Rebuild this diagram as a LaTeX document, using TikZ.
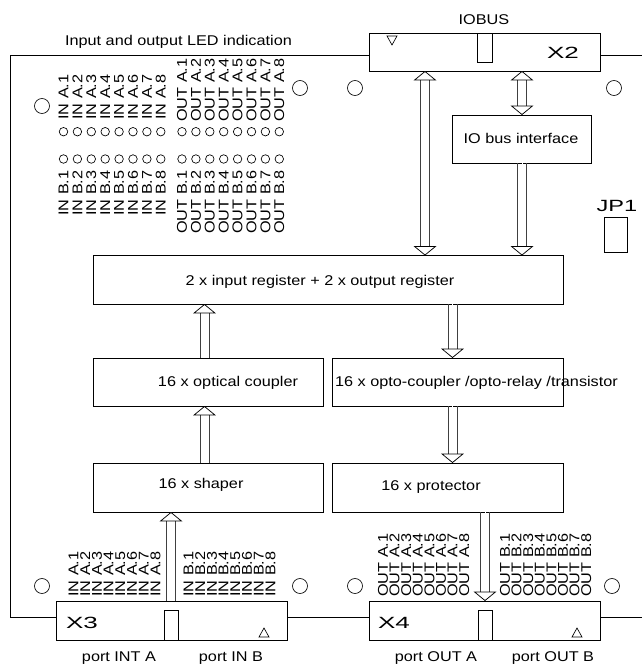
\documentclass[tikz,border=0pt]{standalone}
\usepackage{fontspec}
\setmainfont[FakeStretch=1.15]{Liberation Sans}
\usetikzlibrary{arrows.meta}
\def\u{0.75pt}
\newcommand\pbox[5]{\node[boxn,minimum width={(#4-#2)*\u},minimum height={(#5-#3)*\u}] (#1) at ({(#2+#4)/2},{(#3+#5)/2}) {};}
\newcommand\bus[3]{%
  \draw[shaft,#1shaft,transform canvas={xshift=-3.4pt}] #2 -- #3;
  \draw[shaft,#1shaft,transform canvas={xshift=3.4pt}] #2 -- #3;
  \draw[#1] #2 -- #3;}
\tikzset{
  boxn/.style={draw=black,line width=0.6pt,fill=white,inner sep=0pt,outer sep=0pt},
  txt/.style={inner sep=0pt,font=\fontsize{10.6}{12}\selectfont},
  led/.style={inner sep=0pt,font=\fontsize{10.6}{12}\selectfont,rotate=90,anchor=west},
  hole/.style={circle,draw=black,line width=0.5pt,inner sep=0pt,minimum size=#1*0.75pt,fill=white},
  shaft/.style={draw=black!75,line width=0.7pt},
  uparshaft/.style={shorten >=6.8pt},
  twoarshaft/.style={shorten >=6.8pt,shorten <=6.8pt},
  headtip/.tip={Triangle[fill=white,color=black,length=7pt,width=17pt,line width=0.55pt]},
  upar/.style={draw=white,line width=0.1pt,-headtip},
  twoar/.style={draw=white,line width=0.1pt,headtip-headtip},
  edge/.style={draw=black,line width=0.6pt}
}
\begin{document}
\begin{tikzpicture}[x=0.75pt,y=-0.75pt]
\useasboundingbox (0,0) rectangle (642,665);
\fill[white] (0,0) rectangle (642,665);
% connectors' helper coordinates
\coordinate (tl) at (10,55);
\coordinate (bl) at (10,617);
\coordinate (tr) at (642,55);
\coordinate (br) at (642,617);
\coordinate (ca) at (425,0);
\coordinate (cb) at (522,0);
\coordinate (cc) at (204.5,0);
\coordinate (cd) at (452.5,0);
\coordinate (ce) at (171,0);
\coordinate (cf) at (485,0);
% boxes
\pbox{X2}{369}{33}{600}{71}
\pbox{X3}{56}{601}{287}{640}
\pbox{X4}{369}{601}{600}{640}
\pbox{iob}{452}{115}{591}{163}
\pbox{main}{93}{255.5}{563}{304}
\pbox{opt}{93}{358}{323}{406}
\pbox{rel}{332}{358}{563}{406}
\pbox{sha}{93}{463}{323}{512}
\pbox{pro}{332}{463}{563}{512}
\pbox{jp}{604}{217}{627}{252}
\pbox{xii}{477}{33}{492}{62}
\pbox{xiii}{164}{610}{178}{640}
\pbox{xiv}{478}{610}{492}{640}
% board outline
\draw[edge] (X2.west |- tl) -- (tl) -- (bl) -- (X3.west |- bl);
\draw[edge] (X3.east |- bl) -- (X4.west |- bl);
\draw[edge] (X4.east |- br) -- (br);
\draw[edge] (X2.east |- tr) -- (tr);
% bus arrows
\bus{twoar}{(X2.south -| ca)}{(main.north -| ca)}
\bus{twoar}{(X2.south -| cb)}{(iob.north -| cb)}
\bus{upar}{(iob.south -| cb)}{(main.north -| cb)}
\bus{upar}{(opt.north -| cc)}{(main.south -| cc)}
\bus{upar}{(sha.north -| cc)}{(opt.south -| cc)}
\bus{upar}{(main.south -| cd)}{(rel.north -| cd)}
\bus{upar}{(rel.south -| cd)}{(pro.north -| cd)}
\bus{upar}{(X3.north -| ce)}{(sha.south -| ce)}
\bus{upar}{(pro.south -| cf)}{(X4.north -| cf)}
% box texts
\node[txt] (tmain) at (320,282) {2 x input register + 2 x output register};
\node[txt] (topt) at (228,383) {16 x optical coupler};
\node[txt] (trel) at (476.5,383) {16 x opto-coupler /opto-relay /transistor};
\node[txt] (tsha) at (201,485) {16 x shaper};
\node[txt] (tpro) at (431,487) {16 x protector};
\node[txt] (tiob) at (521,138) {IO bus interface};
\node[txt] (tled) at (178.5,42) {Input and output LED indication};
\node[txt] (tbus) at (484,20) {IOBUS};
\node[txt] (tpa) at (119,658) {port INT A};
\node[txt] (tpb) at (231,658) {port IN B};
\node[txt] (tpc) at (436,658) {port OUT A};
\node[txt] (tpd) at (553,658) {port OUT B};
\node[txt] (tx2) at (563,53) {\scalebox{1.6}[1.15]{X2}};
\node[txt] (tx3) at (82,623) {\scalebox{1.6}[1.15]{X3}};
\node[txt] (tx4) at (394,623) {\scalebox{1.6}[1.15]{X4}};
\node[txt] (tjp) at (617,206) {\scalebox{1.45}[1.15]{JP1}};
% polarity marks
\draw[edge,line width=0.5pt] (387,36) -- (397,36) -- (392,45) -- cycle;
\draw[edge,line width=0.5pt] (259,637) -- (269,637) -- (264,628) -- cycle;
\draw[edge,line width=0.5pt] (572,637) -- (582,637) -- (577,628) -- cycle;
% mounting holes
\foreach \n/\x/\y in {a/42/106,b/300/88,c/355/88,d/614/88,e/42/586,f/300/586,g/355/586,h/612/586}
  \node[hole=15] (h\n) at (\x,\y) {};
% LEDs and labels
\foreach \i in {1,...,8}{
  \pgfmathsetmacro\xa{63.5+13.9*(\i-1)}
  \pgfmathsetmacro\xb{182+13.9*(\i-1)}
  \pgfmathsetmacro\xc{73.5+11.7*(\i-1)}
  \pgfmathsetmacro\xd{188.5+11.7*(\i-1)}
  \pgfmathsetmacro\xe{383+11.6*(\i-1)}
  \pgfmathsetmacro\xf{505+11.6*(\i-1)}
  \node[hole=8.5] (lia\i) at (\xa,131.7) {};
  \node[hole=8.5] (lib\i) at (\xa,159) {};
  \node[hole=8.5] (loa\i) at (\xb,131.7) {};
  \node[hole=8.5] (lob\i) at (\xb,159) {};
  \node[led] (nia\i) at (\xa,120) {IN A.\i};
  \node[led] (nib\i) at (\xa,216) {IN B.\i};
  \node[led] (noa\i) at (\xb,122) {OUT A.\i};
  \node[led] (nob\i) at (\xb,234) {OUT B.\i};
  \node[led] (bia\i) at (\xc,597) {IN A.\i};
  \node[led] (bib\i) at (\xd,597) {IN B.\i};
  \node[led] (boa\i) at (\xe,597) {OUT A.\i};
  \node[led] (bob\i) at (\xf,597) {OUT B.\i};
}
\end{tikzpicture}
\end{document}
